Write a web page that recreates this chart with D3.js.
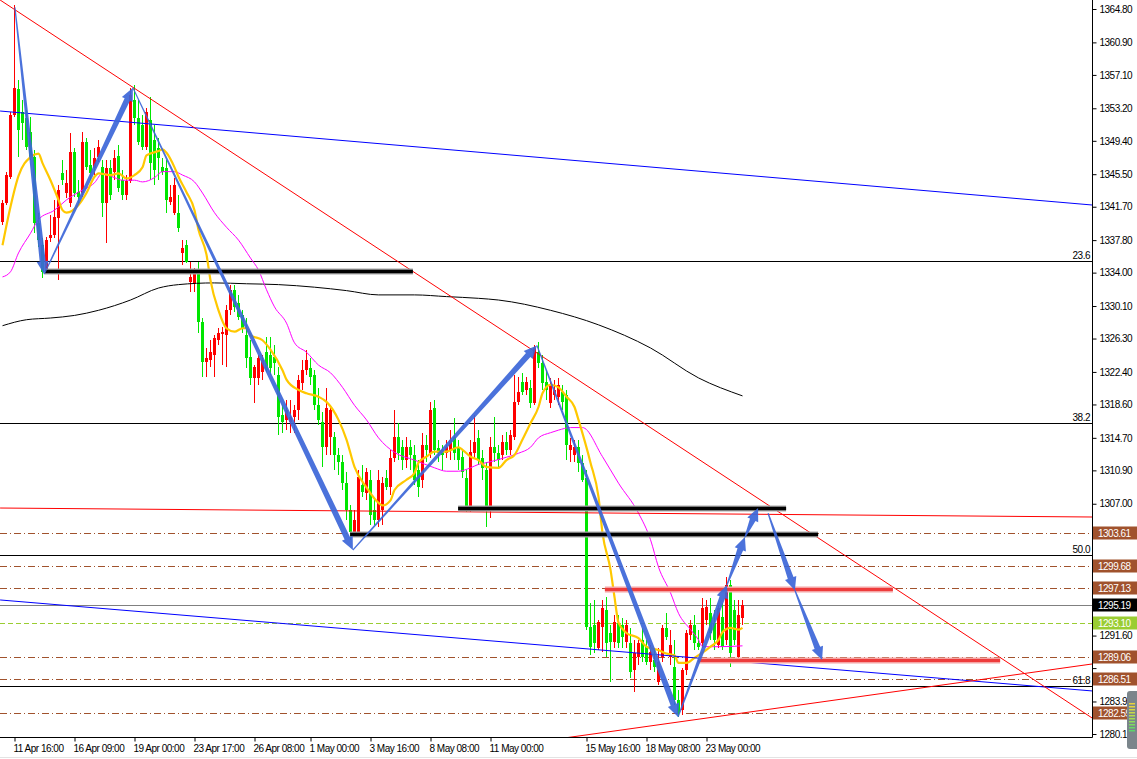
<!DOCTYPE html>
<html>
<head>
<meta charset="utf-8">
<script src="https://cdn.jsdelivr.net/npm/d3@7"></script>
<style>
  body { margin: 0; background: #fff; }
  text { font-family: "Liberation Sans", Arial, sans-serif; font-size: 10px; letter-spacing: -0.5px; }
</style>
</head>
<body>
<div id="chart"></div>
<script>
// candles, one per bar (bar index = position in array)
var opens = [
1339.9,1342.1,1345.2,1352.4,1355.5,1352.8,1352.1,1350.4,1347.5,1339.8,
1337.2,1334.3,1338.0,1338.4,1340.4,1345.6,1343.3,1342.1,1348.1,1343.4,
1343.3,1349.3,1346.6,1346.2,1347.5,1346.3,1342.1,1346.2,1345.8,1347.6,
1344.8,1343.1,1344.7,1354.2,1352.1,1351.2,1348.7,1351.8,1349.5,1348.6,
1346.3,1346.2,1342.3,1341.0,1341.0,1336.3,1337.2,1332.9,1332.8,1334.3,
1328.2,1323.6,1323.8,1324.4,1326.1,1326.8,1326.7,1329.6,1332.0,1330.5,
1329.1,1326.7,1324.1,1321.7,1321.7,1322.4,1324.7,1324.4,1324.1,1322.0,
1317.4,1316.8,1316.6,1317.1,1318.0,1321.1,1322.6,1322.9,1322.0,1318.5,
1316.6,1313.6,1314.8,1314.8,1312.7,1311.9,1309.4,1306.3,1303.7,1303.7,
1309.2,1308.3,1309.8,1306.3,1305.1,1306.3,1310.0,1309.0,1312.3,1314.8,
1313.6,1312.1,1313.6,1312.7,1310.9,1309.8,1313.9,1312.9,1318.2,1313.5,
1313.3,1312.9,1313.3,1314.8,1313.5,1312.5,1310.0,1306.6,1312.9,1314.7,
1312.4,1310.9,1306.6,1313.6,1312.9,1312.7,1314.2,1313.3,1314.8,1318.9,
1321.2,1320.3,1320.5,1318.8,1324.7,1323.4,1321.2,1318.8,1319.7,1319.5,
1320.1,1319.7,1313.3,1312.7,1313.6,1311.8,1310.0,1292.6,1292.8,1290.2,
1292.6,1294.6,1291.9,1290.9,1293.1,1292.8,1290.9,1290.7,1287.6,1289.1,
1291.1,1290.3,1288.5,1288.8,1286.2,1289.1,1292.5,1289.1,1287.9,1284.1,
1282.9,1287.6,1291.7,1292.8,1290.7,1290.7,1293.4,1294.2,1293.1,1290.5,
1293.8,1291.1,1297.5,1294.6,1289.1,1293.7
];
var highs = [
1342.5,1345.8,1352.8,1365.3,1356.5,1354.2,1353.0,1352.2,1348.3,1341.0,
1338.0,1338.2,1340.7,1342.5,1344.2,1347.2,1346.0,1350.3,1348.6,1344.8,
1350.4,1349.7,1348.3,1348.6,1349.5,1347.2,1347.2,1347.2,1348.3,1348.9,
1346.0,1345.4,1355.6,1355.9,1354.2,1352.4,1353.2,1354.5,1351.2,1349.7,
1347.4,1347.2,1344.2,1345.1,1343.1,1337.8,1337.8,1335.2,1334.5,1335.2,
1328.7,1325.2,1326.1,1326.7,1327.5,1327.7,1330.2,1332.6,1332.6,1331.4,
1329.6,1328.7,1326.1,1323.2,1324.4,1324.4,1326.5,1326.5,1325.6,1323.0,
1318.5,1319.1,1319.1,1318.5,1322.0,1323.8,1325.0,1324.0,1322.6,1320.5,
1317.7,1320.5,1318.5,1315.4,1313.5,1312.7,1310.7,1306.9,1306.3,1310.9,
1311.5,1311.2,1310.9,1307.7,1310.9,1310.1,1310.9,1313.3,1318.0,1316.4,
1314.5,1314.8,1314.5,1313.9,1312.1,1315.3,1315.0,1318.9,1319.1,1314.5,
1313.9,1314.5,1315.6,1317.0,1314.5,1313.3,1310.9,1314.5,1317.4,1315.6,
1313.3,1311.9,1314.8,1317.1,1313.9,1315.0,1315.4,1315.6,1322.0,1321.8,
1322.3,1321.8,1321.5,1325.6,1325.9,1324.4,1322.6,1321.7,1321.5,1321.7,
1320.9,1320.3,1314.7,1314.5,1314.5,1312.7,1310.9,1295.4,1295.8,1293.4,
1295.8,1296.1,1292.8,1294.0,1294.0,1293.7,1293.4,1292.5,1291.1,1291.1,
1292.5,1291.1,1290.5,1290.2,1290.2,1292.8,1294.2,1292.3,1291.1,1285.2,
1287.8,1292.3,1293.4,1294.0,1292.3,1296.0,1295.8,1296.0,1294.6,1295.2,
1295.4,1298.5,1298.1,1295.8,1295.8,1295.8
];
var lows = [
1339.6,1341.9,1344.9,1352.2,1347.5,1349.5,1348.3,1347.2,1338.6,1337.0,
1333.4,1334.0,1337.6,1338.0,1333.1,1344.2,1342.7,1341.7,1342.8,1341.9,
1342.8,1346.0,1344.8,1345.4,1346.9,1340.5,1337.5,1342.5,1344.8,1343.4,
1342.5,1342.5,1344.5,1351.2,1348.9,1348.3,1348.3,1344.8,1344.2,1344.8,
1345.4,1341.0,1341.9,1340.7,1338.8,1334.9,1335.1,1331.7,1331.7,1327.0,
1321.8,1321.8,1323.0,1321.8,1325.6,1323.2,1323.0,1329.1,1329.4,1328.5,
1327.0,1322.9,1320.9,1318.8,1320.9,1321.5,1322.4,1322.0,1322.0,1315.0,
1315.3,1315.6,1315.3,1315.3,1316.8,1320.3,1322.0,1320.9,1318.0,1316.2,
1311.3,1312.7,1312.7,1310.9,1310.4,1308.6,1305.1,1302.8,1303.1,1303.4,
1307.8,1307.4,1304.5,1304.5,1304.3,1304.5,1308.6,1308.0,1311.9,1312.1,
1310.9,1311.2,1310.9,1309.2,1307.8,1308.8,1311.9,1312.4,1312.7,1311.9,
1310.9,1312.4,1312.1,1312.1,1310.9,1310.0,1306.0,1306.0,1312.4,1311.5,
1309.8,1304.3,1305.3,1311.9,1311.2,1312.1,1312.7,1312.7,1314.5,1318.5,
1319.7,1319.7,1318.2,1318.5,1322.9,1320.3,1319.1,1318.2,1319.1,1318.5,
1318.0,1312.1,1311.9,1311.9,1310.7,1309.5,1292.3,1289.3,1289.6,1289.9,
1289.7,1289.1,1286.2,1290.2,1290.2,1290.2,1290.2,1286.7,1285.0,1288.2,
1288.5,1288.2,1287.6,1287.4,1285.8,1288.5,1291.1,1288.2,1283.5,1282.1,
1282.3,1287.0,1291.1,1289.9,1289.9,1290.2,1292.8,1291.1,1289.9,1290.2,
1289.9,1290.5,1287.9,1290.5,1288.8,1292.8
];
var closes = [
1342.1,1345.4,1352.4,1355.6,1350.7,1351.5,1348.7,1347.5,1339.8,1337.8,
1334.1,1337.8,1338.4,1340.5,1343.7,1344.8,1344.5,1348.1,1343.3,1342.8,
1349.3,1346.3,1345.6,1347.4,1348.7,1342.1,1346.2,1343.1,1347.4,1343.9,
1343.1,1344.7,1354.8,1352.1,1349.3,1348.7,1352.8,1346.8,1346.0,1347.4,
1345.8,1342.5,1342.8,1344.2,1339.2,1336.9,1335.2,1333.5,1334.1,1328.2,
1323.6,1324.0,1324.7,1326.4,1327.0,1327.1,1329.6,1332.0,1330.0,1328.8,
1327.5,1324.0,1321.7,1323.0,1324.0,1323.8,1322.6,1322.9,1323.4,1317.1,
1316.6,1318.0,1317.1,1318.0,1321.5,1322.6,1323.8,1321.8,1318.5,1316.8,
1313.6,1318.2,1318.0,1312.7,1311.9,1309.4,1306.3,1303.7,1305.1,1310.1,
1308.4,1310.7,1305.7,1305.1,1309.8,1309.4,1309.0,1312.3,1314.8,1312.9,
1312.1,1313.6,1312.7,1309.8,1309.0,1313.9,1313.3,1318.0,1313.3,1312.9,
1312.7,1313.6,1314.5,1312.9,1312.1,1310.7,1306.6,1313.1,1314.2,1312.1,
1311.2,1306.6,1313.6,1312.9,1312.1,1314.2,1313.3,1315.0,1318.9,1320.1,
1320.1,1321.2,1318.8,1325.2,1323.4,1321.1,1320.3,1320.9,1320.3,1320.9,
1318.9,1313.9,1313.9,1313.6,1311.8,1309.8,1292.6,1290.3,1290.7,1293.2,
1294.8,1290.7,1290.9,1293.2,1290.7,1291.4,1292.8,1287.4,1289.6,1290.7,
1289.1,1288.5,1289.7,1287.9,1288.5,1292.5,1291.4,1290.5,1284.1,1282.6,
1287.6,1291.9,1292.8,1290.7,1290.3,1294.8,1294.9,1291.9,1291.1,1294.8,
1290.3,1297.5,1289.6,1291.1,1294.0,1295.2
];

// moving averages, read at sample bars
var maFastBars = [0,2,4,7,9,10,12,14,15,16,19,21,23,24,27,29,31,33,35,36,39,40,41,43,44,46,48,49,51,52,54,56,58,60,61,62,65,67,70,71,74,76,79,81,84,86,88,91,94,95,97,98,101,103,104,106,108,111,114,115,117,119,121,124,126,128,130,132,134,135,137,139,141,143,144,147,149,150,152,153,154,156,159,161,164,166,168,169,171,173,175,177,179,180,182,184,185];
var maFastValues = [1337.2,1341.7,1345.3,1347.5,1347.9,1346.8,1344.8,1342.5,1341.3,1341.0,1341.9,1343.3,1345.2,1345.6,1345.4,1345.6,1345.0,1345.4,1346.3,1347.7,1348.2,1348.4,1348.0,1346.3,1345.2,1343.4,1341.3,1339.0,1336.1,1333.1,1329.6,1327.5,1327.1,1327.5,1327.5,1326.7,1326.1,1325.0,1322.6,1321.5,1320.3,1319.9,1319.5,1318.9,1316.8,1314.5,1311.3,1308.9,1307.1,1306.8,1307.4,1308.6,1309.8,1310.6,1311.8,1312.5,1313.1,1313.1,1313.6,1313.3,1312.5,1312.1,1311.3,1311.2,1312.1,1312.7,1314.5,1316.4,1318.3,1319.9,1320.9,1320.6,1319.5,1318.3,1316.8,1311.8,1307.8,1303.6,1299.3,1296.1,1293.1,1291.9,1291.3,1290.3,1289.9,1289.5,1289.3,1288.4,1288.4,1289.0,1289.6,1290.3,1291.1,1292.0,1292.5,1292.3,1292.5];

var maSlowBars = [0,2,4,7,9,13,16,19,23,25,28,30,33,35,38,40,43,45,48,50,53,56,59,62,64,66,68,71,73,76,79,82,85,88,91,94,98,103,108,111,114,117,119,121,125,129,132,134,137,139,142,145,150,154,159,162,164,167,169,172,174,175,179,185];
var maSlowValues = [1333.5,1334.1,1336.3,1338.6,1340.2,1341.3,1342.5,1343.4,1344.5,1345.6,1345.1,1344.8,1344.8,1344.6,1345.1,1345.8,1345.8,1345.4,1344.6,1343.3,1341.0,1339.3,1337.8,1335.7,1334.3,1332.0,1330.0,1328.1,1325.8,1324.7,1323.2,1322.3,1320.6,1318.5,1316.8,1314.7,1313.0,1312.1,1311.2,1310.8,1310.8,1311.2,1311.6,1311.8,1312.3,1312.9,1313.6,1314.7,1315.3,1315.6,1315.9,1315.9,1312.5,1309.4,1305.9,1302.8,1299.6,1296.6,1294.2,1292.3,1291.1,1290.3,1290.3,1290.4];

var maLongBars = [0,6,12,18,24,32,39,44,53,61,69,78,86,94,103,111,119,124,137,149,162,174,185];
var maLongValues = [1327.8,1328.5,1328.7,1329.0,1329.6,1330.8,1332.2,1332.6,1332.8,1332.7,1332.6,1332.3,1331.9,1331.4,1331.4,1331.2,1331.0,1330.8,1329.6,1327.9,1325.2,1321.7,1319.6];

// axes
var tickBars = [3,18,33,48,63,77,92,107,122,146,161,176];
var tickLabels = ["11 Apr 16:00","16 Apr 09:00","19 Apr 00:00","23 Apr 17:00","26 Apr 08:00","1 May 00:00","3 May 16:00","8 May 08:00","11 May 00:00","15 May 16:00","18 May 08:00","23 May 00:00"];
var priceTicks = [1364.8,1360.9,1357.1,1353.2,1349.4,1345.5,1341.7,1337.8,1334.0,1330.1,1326.3,1322.4,1318.6,1314.7,1310.9,1307.0,1303.2,1299.3,1295.5,1291.6,1287.8,1283.9,1280.1];

// horizontal levels
var fiboLevels = [1335.36, 1316.44, 1301.02, 1285.71];
var fiboLabels = ["23.6", "38.2", "50.0", "61.8"];
var orderLevels = [1303.61, 1299.68, 1297.13, 1289.06, 1286.51, 1282.59];
var bidPrice = 1295.19;
var alertPrice = 1293.10;

// trend lines [bar, price] -> [bar, price]
var redFallLine = [[-0.6, 1365.85], [272.4, 1281.97]];
var redRiseLine = [[140.6, 1279.64], [272.4, 1288.28]];
var redFlatLine = [[-0.6, 1306.5], [272.4, 1305.45]];
var blueTopLine = [[-0.6, 1352.88], [272.4, 1341.9]];
var blueLowLine = [[-0.6, 1295.76], [272.4, 1285.13]];

// thick zones [fromBar, toBar, price]
var blackZones = [[10.6, 102.6, 1334.2], [86.9, 203.9, 1303.47], [113.9, 195.9, 1306.5]];
var redZones = [[150.6, 222.6, 1297.0], [173.9, 249.4, 1288.8]];

// zigzag arrows
var waveMain = [[3.1, 1365.0], [10.4, 1333.8], [32.6, 1355.6], [87.6, 1301.6], [133.6, 1325.5], [168.9, 1282.1], [181.1, 1297.5], [185.6, 1303.1], [188.9, 1306.5]];
var waveNext = [[191.4, 1305.9], [198.1, 1296.9], [204.9, 1288.75]];

// price tags on the axis
var tagValues = [1303.61, 1299.68, 1297.13, 1295.19, 1293.10, 1289.06, 1286.51, 1282.59];
var tagColors = ["#a0522d", "#a0522d", "#a0522d", "#000000", "#9acd32", "#a0522d", "#a0522d", "#a0522d"];

var width = 1137, height = 759;
var plotRight = 1092, plotBottom = 737;

var x = d3.scaleLinear().domain([0, 1]).range([2.5, 6.5]);
var y = d3.scaleLinear().domain([1364.8, 1280.1]).range([9, 734]);

var svg = d3.select("#chart").append("svg")
  .attr("width", width)
  .attr("height", height)
  .style("display", "block");

svg.append("rect").attr("width", width).attr("height", height).attr("fill", "#fff");
svg.append("defs").append("clipPath").attr("id", "plot")
  .append("rect").attr("width", plotRight).attr("height", plotBottom);

var plot = svg.append("g").attr("clip-path", "url(#plot)");

function hLine(g, price, x1, x2, color, w, dash) {
  var py = Math.round(y(price)) + 0.5;
  g.append("line")
    .attr("x1", x1).attr("x2", x2)
    .attr("y1", py).attr("y2", py)
    .attr("stroke", color)
    .attr("stroke-width", w)
    .attr("stroke-dasharray", dash || null);
}

// level lines
var levels = plot.append("g");
fiboLevels.forEach(function(p) { hLine(levels, p, 0, plotRight, "#000", 1); });
orderLevels.forEach(function(p) { hLine(levels, p, 0, plotRight, "#a0522d", 1, "7,3,1,3"); });
hLine(levels, bidPrice, 0, plotRight, "#808080", 1);
hLine(levels, alertPrice, 0, plotRight, "#9acd32", 1, "5,3");

levels.selectAll("text.fibo")
  .data(fiboLevels)
  .enter().append("text")
    .attr("class", "fibo")
    .attr("x", plotRight - 2)
    .attr("y", function(d) { return Math.round(y(d)) - 2; })
    .attr("text-anchor", "end")
    .text(function(d, i) { return fiboLabels[i]; });

// candles
function candleColor(i) {
  return closes[i] >= opens[i] ? "#ff0000" : "#00e600";
}

var candles = plot.append("g")
  .attr("shape-rendering", "crispEdges")
  .selectAll("g")
  .data(closes)
  .enter().append("g");

candles.append("line")
  .attr("x1", function(d, i) { return x(i); })
  .attr("x2", function(d, i) { return x(i); })
  .attr("y1", function(d, i) { return y(highs[i]); })
  .attr("y2", function(d, i) { return y(lows[i]); })
  .attr("stroke", function(d, i) { return candleColor(i); });

candles.append("rect")
  .attr("x", function(d, i) { return x(i) - 1.5; })
  .attr("width", 3)
  .attr("y", function(d, i) { return y(Math.max(opens[i], closes[i])); })
  .attr("height", function(d, i) { return Math.max(1, Math.abs(y(opens[i]) - y(closes[i]))); })
  .attr("fill", function(d, i) { return candleColor(i); });

// moving averages
function maLine(bars, values, color, w) {
  var line = d3.line()
    .x(function(d) { return x(d); })
    .y(function(d, i) { return y(values[i]); })
    .curve(d3.curveMonotoneX);
  plot.append("path")
    .attr("d", line(bars))
    .attr("fill", "none")
    .attr("stroke", color)
    .attr("stroke-width", w);
}
maLine(maLongBars, maLongValues, "#000", 1);
maLine(maSlowBars, maSlowValues, "#ff00ff", 1);
maLine(maFastBars, maFastValues, "#ffc800", 2.2);

// trend lines
function trend(pts, color) {
  plot.append("line")
    .attr("x1", x(pts[0][0])).attr("y1", y(pts[0][1]))
    .attr("x2", x(pts[1][0])).attr("y2", y(pts[1][1]))
    .attr("stroke", color)
    .attr("stroke-width", 1);
}
trend(redFlatLine, "#ff0000");
trend(blueTopLine, "#0000ff");
trend(blueLowLine, "#0000ff");
trend(redFallLine, "#ff0000");
trend(redRiseLine, "#ff0000");

// thick zones
blackZones.forEach(function(z) {
  hLine(plot, z[2], x(z[0]), x(z[1]), "#a8a8a8", 6);
  hLine(plot, z[2], x(z[0]), x(z[1]), "#000", 3.5);
});
redZones.forEach(function(z) {
  hLine(plot, z[2], x(z[0]), x(z[1]), "#f5a3a3", 6);
  hLine(plot, z[2], x(z[0]), x(z[1]), "#ee3b3b", 3);
});

// tapered arrows
function arrow(p1, p2) {
  var x1 = x(p1[0]), y1 = y(p1[1]), x2 = x(p2[0]), y2 = y(p2[1]);
  var dx = x2 - x1, dy = y2 - y1, len = Math.sqrt(dx * dx + dy * dy);
  var ux = dx / len, uy = dy / len, nx = -uy, ny = ux;
  var headLen = Math.min(13, len * 0.45), headW = 6;
  var bx = x2 - ux * headLen, by = y2 - uy * headLen;
  var pts = [
    [x1 + nx * 0.6, y1 + ny * 0.6],
    [bx + nx * 3, by + ny * 3],
    [bx + nx * headW, by + ny * headW],
    [x2, y2],
    [bx - nx * headW, by - ny * headW],
    [bx - nx * 3, by - ny * 3],
    [x1 - nx * 0.6, y1 - ny * 0.6]
  ];
  plot.append("path")
    .attr("d", "M" + pts.map(function(p) { return p[0].toFixed(1) + "," + p[1].toFixed(1); }).join("L") + "Z")
    .attr("fill", "#3c66d8")
    .attr("fill-opacity", 0.92);
}
[waveMain, waveNext].forEach(function(wave) {
  for (var k = 0; k < wave.length - 1; k++) arrow(wave[k], wave[k + 1]);
});

// axes
var yAxis = d3.axisRight(y)
  .tickValues(priceTicks)
  .tickFormat(d3.format(".2f"))
  .tickSize(4);
var gy = svg.append("g")
  .attr("transform", "translate(" + (plotRight + 0.5) + ",0)")
  .call(yAxis);
gy.select(".domain").remove();
gy.selectAll("text").attr("font-family", null).attr("font-size", null).attr("fill", "#000");
// labels sitting under a price tag are hidden by it
gy.selectAll(".tick text")
  .filter(function(d) {
    return tagValues.some(function(t) { return Math.abs(y(t) - y(d)) < 11; });
  })
  .remove();

var xAxis = d3.axisBottom(x)
  .tickValues(tickBars)
  .tickFormat(function(d, i) { return tickLabels[i]; })
  .tickSize(4);
var gx = svg.append("g")
  .attr("transform", "translate(0," + (plotBottom + 0.5) + ")")
  .call(xAxis);
gx.select(".domain").remove();
gx.selectAll("text")
  .attr("font-family", null).attr("font-size", null)
  .attr("fill", "#000")
  .attr("text-anchor", "start")
  .attr("dx", -1.5);

svg.append("line")
  .attr("x1", plotRight + 0.5).attr("x2", plotRight + 0.5)
  .attr("y1", 0).attr("y2", plotBottom + 0.5)
  .attr("stroke", "#000");
svg.append("line")
  .attr("x1", 0).attr("x2", plotRight + 0.5)
  .attr("y1", plotBottom + 0.5).attr("y2", plotBottom + 0.5)
  .attr("stroke", "#000");
svg.append("line")
  .attr("x1", 0).attr("x2", width)
  .attr("y1", 757.5).attr("y2", 757.5)
  .attr("stroke", "#e3e3e3");

// price tags
var tags = svg.append("g").selectAll("g")
  .data(tagValues)
  .enter().append("g")
    .attr("transform", function(d) { return "translate(" + (plotRight + 1) + "," + Math.round(y(d)) + ")"; });
tags.append("rect")
  .attr("x", 0).attr("y", -6.5)
  .attr("width", width - plotRight - 1).attr("height", 13)
  .attr("fill", function(d, i) { return tagColors[i]; });
tags.append("text")
  .attr("x", 5).attr("y", 4)
  .attr("fill", "#fff")
  .text(function(d) { return d3.format(".2f")(d); });

// signal widget in the corner
var widget = svg.append("g").attr("transform", "translate(1127,691)");
widget.append("rect")
  .attr("width", 14).attr("height", 58).attr("rx", 3)
  .attr("fill", "#7b858b");
var widgetColors = ["#e8d23a", "#e5d53c", "#d8d840", "#c9da46", "#b7dc4c", "#a4dd52", "#90de58", "#7ddc5e", "#69d964", "#5cd668"];
widget.selectAll("rect.bar")
  .data(widgetColors)
  .enter().append("rect")
    .attr("class", "bar")
    .attr("x", 2).attr("width", 6)
    .attr("y", function(d, i) { return 12 + i * 3; })
    .attr("height", 1.5)
    .attr("fill", function(d) { return d; });
</script>
</body>
</html>
